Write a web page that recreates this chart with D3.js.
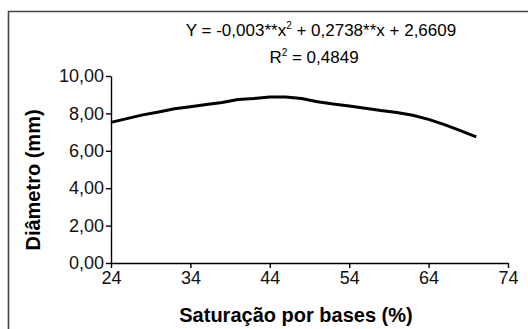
<!DOCTYPE html>
<html lang="pt">
  <head>
    <meta charset="UTF-8" />
    <title>Diâmetro x Saturação por bases</title>
    <style>
      body { margin: 0; background: #fff; }
      svg { display: block; font-family: "Liberation Sans", Arial, sans-serif; }
      .axis path, .axis line { stroke: #000; stroke-width: 1.4; }
      .axis text { font-size: 18px; fill: #111; }
    </style>
    <script src="https://d3js.org/d3.v7.min.js"></script>
  </head>
  <body>
    <div id="chart"></div>
    <script>
      const saturacao = [24, 26, 28, 30, 32, 34, 36, 38, 40, 42, 44, 46, 48, 50, 52, 54, 56, 58, 60, 62, 64, 66, 68, 70];
      const diametro = [7.52, 7.72, 7.92, 8.08, 8.25, 8.36, 8.47, 8.58, 8.74, 8.80, 8.88, 8.88, 8.80, 8.62, 8.50, 8.40, 8.28, 8.15, 8.05, 7.90, 7.68, 7.40, 7.08, 6.74];
      const xTicks = [24, 34, 44, 54, 64, 74];
      const yTicks = [0, 2, 4, 6, 8, 10];

      const width = 528, height = 329;
      const svg = d3.select("#chart").append("svg")
        .attr("width", width)
        .attr("height", height);

      // moldura (só lados esquerdo e superior aparecem)
      svg.append("path")
        .attr("d", "M8.5,335 V11.5 H535")
        .attr("fill", "none")
        .attr("stroke", "#444")
        .attr("stroke-width", 1.6);

      const x = d3.scaleLinear().domain([24, 74]).range([111, 508]);
      const y = d3.scaleLinear().domain([0, 10]).range([263, 76]);

      const br = d3.formatLocale({ decimal: ",", thousands: ".", grouping: [3], currency: ["R$", ""] });

      svg.append("g")
        .attr("class", "axis")
        .attr("transform", "translate(0,263)")
        .call(d3.axisBottom(x).tickValues(xTicks).tickSize(5).tickSizeOuter(0).tickPadding(3));

      svg.append("g")
        .attr("class", "axis")
        .attr("transform", "translate(111,0)")
        .call(d3.axisLeft(y).tickValues(yTicks).tickSize(5).tickSizeOuter(0).tickPadding(2).tickFormat(br.format(".2f")));

      // curva
      svg.append("path")
        .datum(saturacao.map((s, i) => [s, diametro[i]]))
        .attr("fill", "none")
        .attr("stroke", "#000")
        .attr("stroke-width", 3)
        .attr("stroke-linejoin", "round")
        .attr("d", d3.line().x(d => x(d[0])).y(d => y(d[1])));

      // equação
      const eq = svg.append("text")
        .attr("x", 321)
        .attr("y", 36)
        .attr("text-anchor", "middle")
        .attr("font-size", 17);
      eq.append("tspan").text("Y = -0,003**x");
      eq.append("tspan").attr("font-size", 10).attr("dy", -7).text("2");
      eq.append("tspan").attr("dy", 7).text(" + 0,2738**x + 2,6609");

      const r2 = svg.append("text")
        .attr("x", 314)
        .attr("y", 63)
        .attr("text-anchor", "middle")
        .attr("font-size", 17);
      r2.append("tspan").text("R");
      r2.append("tspan").attr("font-size", 10).attr("dy", -7).text("2");
      r2.append("tspan").attr("dy", 7).text(" = 0,4849");

      // títulos dos eixos
      svg.append("text")
        .attr("x", 296)
        .attr("y", 322)
        .attr("text-anchor", "middle")
        .attr("font-size", 20)
        .attr("font-weight", "bold")
        .text("Saturação por bases (%)");

      svg.append("text")
        .attr("transform", "translate(40,180) rotate(-90)")
        .attr("text-anchor", "middle")
        .attr("font-size", 20)
        .attr("font-weight", "bold")
        .text("Diâmetro (mm)");
    </script>
  </body>
</html>
